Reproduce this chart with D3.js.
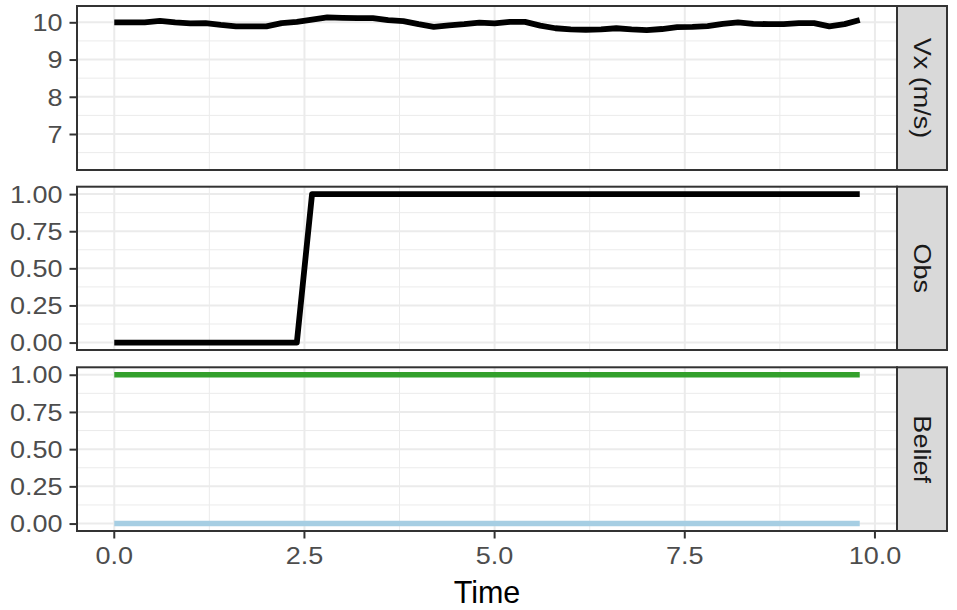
<!DOCTYPE html>
<html lang="en">
    <head>
        <meta charset="utf-8">
        <title>Vx / Obs / Belief</title>
        <script type="text/javascript" src="https://d3js.org/d3.v7.min.js"></script>
        <style type="text/css">
          body { margin: 0; background: white; }
          .axis path { display: none; }
          .axis line { stroke: #333333; stroke-width: 2px; }
          .axis text {
              font-family: "Liberation Sans", Arial, sans-serif;
              font-size: 23.5px;
              fill: #4D4D4D;
          }
          .grid-major { stroke: #EBEBEB; stroke-width: 2px; }
          .grid-minor { stroke: #EBEBEB; stroke-width: 1px; }
          .strip text {
              font-family: "Liberation Sans", Arial, sans-serif;
              font-size: 23.5px;
              fill: #1A1A1A;
          }
        </style>
    </head>
    <body>
        <script type="text/javascript">
          var w = 957;
          var h = 610;
          var stretch = 1.15; // the tick and strip glyphs are wider than plain Arial

          // data
          var time = [0.0, 0.2, 0.4, 0.6, 0.8, 1.0, 1.2, 1.4, 1.6, 1.8,
                      2.0, 2.2, 2.4, 2.6, 2.8, 3.0, 3.2, 3.4, 3.6, 3.8,
                      4.0, 4.2, 4.4, 4.6, 4.8, 5.0, 5.2, 5.4, 5.6, 5.8,
                      6.0, 6.2, 6.4, 6.6, 6.8, 7.0, 7.2, 7.4, 7.6, 7.8,
                      8.0, 8.2, 8.4, 8.6, 8.8, 9.0, 9.2, 9.4, 9.6, 9.8];
          var vx = [10.00, 10.00, 10.00, 10.04, 10.00, 9.97, 9.98, 9.93, 9.89, 9.89,
                    9.89, 9.98, 10.01, 10.07, 10.13, 10.12, 10.11, 10.11, 10.06, 10.03,
                    9.95, 9.88, 9.92, 9.95, 9.99, 9.97, 10.01, 10.01, 9.91, 9.84,
                    9.81, 9.80, 9.81, 9.84, 9.81, 9.79, 9.82, 9.87, 9.88, 9.90,
                    9.96, 10.00, 9.96, 9.95, 9.95, 9.98, 9.98, 9.89, 9.95, 10.06];
          var obs = [0, 0, 0, 0, 0, 0, 0, 0, 0, 0,
                     0, 0, 0, 1, 1, 1, 1, 1, 1, 1,
                     1, 1, 1, 1, 1, 1, 1, 1, 1, 1,
                     1, 1, 1, 1, 1, 1, 1, 1, 1, 1,
                     1, 1, 1, 1, 1, 1, 1, 1, 1, 1];
          var beliefHigh = [1, 1, 1, 1, 1, 1, 1, 1, 1, 1,
                            1, 1, 1, 1, 1, 1, 1, 1, 1, 1,
                            1, 1, 1, 1, 1, 1, 1, 1, 1, 1,
                            1, 1, 1, 1, 1, 1, 1, 1, 1, 1,
                            1, 1, 1, 1, 1, 1, 1, 1, 1, 1];
          var beliefLow = [0, 0, 0, 0, 0, 0, 0, 0, 0, 0,
                           0, 0, 0, 0, 0, 0, 0, 0, 0, 0,
                           0, 0, 0, 0, 0, 0, 0, 0, 0, 0,
                           0, 0, 0, 0, 0, 0, 0, 0, 0, 0,
                           0, 0, 0, 0, 0, 0, 0, 0, 0, 0];

          var xTicks = [0, 2.5, 5, 7.5, 10];
          var xMinor = [1.25, 3.75, 6.25, 8.75];
          var vxTicks = [7, 8, 9, 10];
          var vxMinor = [6.5, 7.5, 8.5, 9.5];
          var probTicks = [0, 0.25, 0.5, 0.75, 1];
          var probMinor = [0.125, 0.375, 0.625, 0.875];

          // panel geometry
          var left = 77, right = 897, stripW = 50;
          var panels = [
            { label: "Vx (m/s)", top: 6, bottom: 170, domain: [6.033, 10.438],
              ticks: vxTicks, minor: vxMinor, fmt: d3.format("d"),
              series: [{ values: vx, color: "black", width: 5.8 }] },
            { label: "Obs", top: 186.7, bottom: 350, domain: [-0.05, 1.05],
              ticks: probTicks, minor: probMinor, fmt: d3.format(".2f"),
              series: [{ values: obs, color: "black", width: 5.8 }] },
            { label: "Belief", top: 367.3, bottom: 531, domain: [-0.05, 1.05],
              ticks: probTicks, minor: probMinor, fmt: d3.format(".2f"),
              series: [{ values: beliefHigh, color: "#33A02C", width: 5.5 },
                       { values: beliefLow, color: "#A6CEE3", width: 5.5 }] }
          ];

          var svg = d3.select("body").append("svg")
                      .attr("width", w).attr("height", h);

          var xScale = d3.scaleLinear()
                         .domain([-0.49, 10.29])
                         .range([left, right]);

          panels.forEach(function(p) {
            var yScale = d3.scaleLinear().domain(p.domain).range([p.bottom, p.top]);
            var g = svg.append("g");

            g.append("rect")
             .attr("x", left).attr("y", p.top)
             .attr("width", right - left).attr("height", p.bottom - p.top)
             .attr("fill", "white");

            // grid lines
            g.selectAll(".ym").data(p.minor).enter().append("line")
             .attr("class", "grid-minor")
             .attr("x1", left).attr("x2", right)
             .attr("y1", function(d) { return yScale(d); })
             .attr("y2", function(d) { return yScale(d); });
            g.selectAll(".xm").data(xMinor).enter().append("line")
             .attr("class", "grid-minor")
             .attr("y1", p.top).attr("y2", p.bottom)
             .attr("x1", function(d) { return xScale(d); })
             .attr("x2", function(d) { return xScale(d); });
            g.selectAll(".yM").data(p.ticks).enter().append("line")
             .attr("class", "grid-major")
             .attr("x1", left).attr("x2", right)
             .attr("y1", function(d) { return yScale(d); })
             .attr("y2", function(d) { return yScale(d); });
            g.selectAll(".xM").data(xTicks).enter().append("line")
             .attr("class", "grid-major")
             .attr("y1", p.top).attr("y2", p.bottom)
             .attr("x1", function(d) { return xScale(d); })
             .attr("x2", function(d) { return xScale(d); });

            // lines
            var line = d3.line()
                         .x(function(d, i) { return xScale(time[i]); })
                         .y(function(d) { return yScale(d); });
            p.series.forEach(function(s) {
              g.append("path")
               .datum(s.values)
               .attr("d", line)
               .attr("fill", "none")
               .attr("stroke", s.color)
               .attr("stroke-width", s.width)
               .attr("stroke-linejoin", "round");
            });

            // panel border
            g.append("rect")
             .attr("x", left).attr("y", p.top)
             .attr("width", right - left).attr("height", p.bottom - p.top)
             .attr("fill", "none").attr("stroke", "#333333").attr("stroke-width", 2);

            // y axis
            var yAxis = d3.axisLeft(yScale).tickValues(p.ticks)
                          .tickFormat(p.fmt).tickSize(7.5).tickPadding(7);
            svg.append("g")
               .attr("class", "axis")
               .attr("transform", "translate(" + left + ",0)")
               .call(yAxis)
               .selectAll("text")
               .attr("dy", "0.35em")
               .attr("x", -14.5 / stretch)
               .attr("transform", "scale(" + stretch + ",1)");

            // strip
            var strip = svg.append("g").attr("class", "strip");
            strip.append("rect")
                 .attr("x", right).attr("y", p.top)
                 .attr("width", stripW).attr("height", p.bottom - p.top)
                 .attr("fill", "#D9D9D9").attr("stroke", "#333333").attr("stroke-width", 2);
            strip.append("text")
                 .attr("transform", "translate(" + (right + stripW / 2) + "," + ((p.top + p.bottom) / 2) + ") rotate(90) scale(" + stretch + ",1)")
                 .attr("text-anchor", "middle")
                 .attr("dy", "0.35em")
                 .text(p.label);
          });

          // x axis under the last panel
          var xAxis = d3.axisBottom(xScale).tickValues(xTicks)
                        .tickFormat(d3.format(".1f")).tickSize(7.5).tickPadding(9);
          var xg = svg.append("g")
             .attr("class", "axis")
             .attr("transform", "translate(0," + panels[2].bottom + ")")
             .call(xAxis);
          xg.selectAll(".tick text")
            .attr("transform", "scale(" + stretch + ",1)");
          xg.selectAll(".tick")
            .attr("transform", function(d) { return "translate(" + xScale(d) + ",0)"; });

          svg.append("text")
             .attr("x", (left + right) / 2)
             .attr("y", 603)
             .attr("text-anchor", "middle")
             .style("font-family", "'Liberation Sans', Arial, sans-serif")
             .style("font-size", "30.5px")
             .style("fill", "black")
             .text("Time");
        </script>
    </body>
</html>
